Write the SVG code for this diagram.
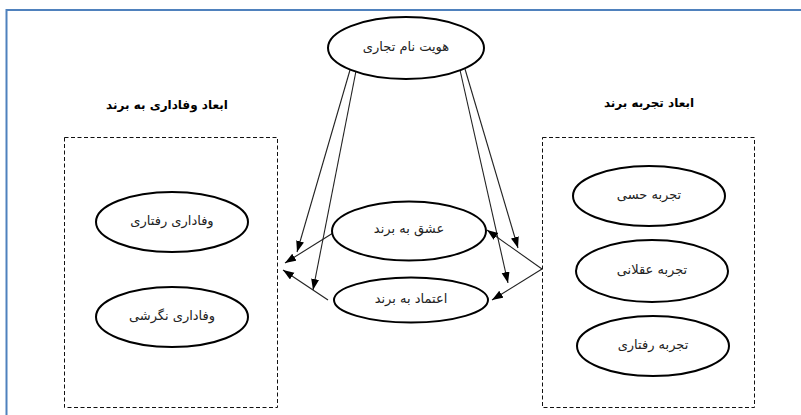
<svg xmlns="http://www.w3.org/2000/svg" width="801" height="415" viewBox="0 0 801 415">
<defs>
<marker id="ah" markerUnits="userSpaceOnUse" markerWidth="12" markerHeight="9" refX="11" refY="4" orient="auto">
<path d="M0,0 L11,4 L0,8 z" fill="#000"/>
</marker>
<style>
.frame{fill:none;stroke:#4F81BD;stroke-width:2}
.box{fill:none;stroke:#111;stroke-width:1;stroke-dasharray:4 2.5}
.node ellipse{fill:#fff;stroke:#000;stroke-width:2}
.lbl{font-family:"DejaVu Sans",sans-serif;font-size:13px;fill:#222;text-anchor:middle;dominant-baseline:central}
.ttl{font-family:"DejaVu Sans",sans-serif;font-size:12px;font-weight:bold;fill:#000;text-anchor:middle;dominant-baseline:central}
.conn line{stroke:#222;stroke-width:1.1;marker-end:url(#ah)}
</style>
</defs>
<rect width="801" height="415" fill="#fff"/>
<rect class="frame" x="6.5" y="10" width="820" height="430"/>

<g id="loyalty-group">
<rect class="box" x="64.5" y="137.5" width="213" height="270"/>
<text class="ttl" x="167" y="105" direction="rtl">ابعاد وفاداری به برند</text>
</g>
<g id="experience-group">
<rect class="box" x="542.5" y="137.5" width="212" height="270"/>
<text class="ttl" x="649" y="103" direction="rtl">ابعاد تجربه برند</text>
</g>

<g id="connectors" class="conn">
<line x1="350" y1="70" x2="297" y2="252"/>
<line x1="356" y1="71" x2="313" y2="290"/>
<line x1="465" y1="69" x2="518" y2="248"/>
<line x1="460" y1="70" x2="508" y2="283"/>
<line x1="333" y1="233" x2="285" y2="263"/>
<line x1="328" y1="300" x2="283" y2="270"/>
<line x1="542" y1="269" x2="487" y2="230"/>
<line x1="542" y1="269" x2="492" y2="300"/>
</g>

<g id="brand-identity" class="node">
<ellipse cx="406" cy="48" rx="78" ry="31"/>
<text class="lbl" x="406" y="46" direction="rtl">هویت نام تجاری</text>
</g>
<g id="brand-love" class="node">
<ellipse cx="409" cy="231" rx="77" ry="29.5"/>
<text class="lbl" x="409" y="228" direction="rtl">عشق به برند</text>
</g>
<g id="brand-trust" class="node">
<ellipse cx="411" cy="300" rx="77" ry="22.5"/>
<text class="lbl" x="411" y="298" direction="rtl">اعتماد به برند</text>
</g>
<g id="behavioral-loyalty" class="node">
<ellipse cx="172" cy="222" rx="76" ry="30"/>
<text class="lbl" x="172" y="220" direction="rtl">وفاداری رفتاری</text>
</g>
<g id="attitudinal-loyalty" class="node">
<ellipse cx="172" cy="317" rx="76" ry="30"/>
<text class="lbl" x="172" y="315" direction="rtl">وفاداری نگرشی</text>
</g>
<g id="sensory-experience" class="node">
<ellipse cx="649" cy="196" rx="76" ry="30"/>
<text class="lbl" x="649" y="194" direction="rtl">تجربه حسی</text>
</g>
<g id="intellectual-experience" class="node">
<ellipse cx="652" cy="271" rx="76" ry="31"/>
<text class="lbl" x="652" y="269" direction="rtl">تجربه عقلانی</text>
</g>
<g id="behavioral-experience" class="node">
<ellipse cx="653" cy="346" rx="76" ry="30"/>
<text class="lbl" x="653" y="344" direction="rtl">تجربه رفتاری</text>
</g>
</svg>
